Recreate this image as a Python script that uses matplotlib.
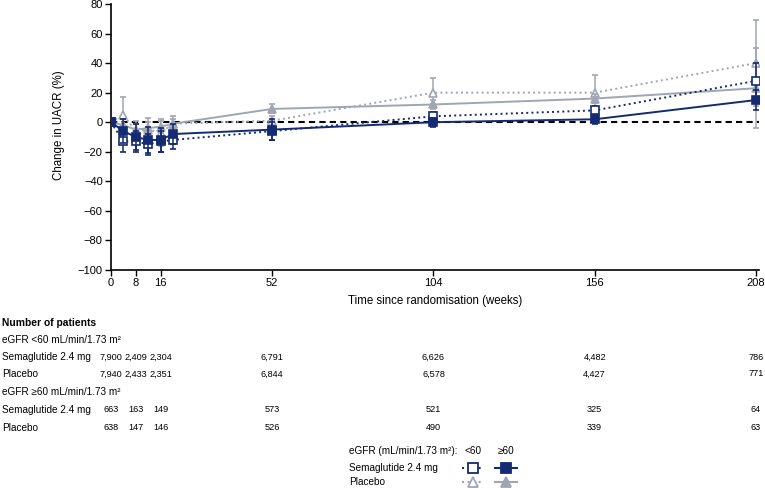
import matplotlib
matplotlib.use("Agg")
import matplotlib.pyplot as plt
from matplotlib.lines import Line2D
import matplotlib.transforms as mtransforms

plt.rcParams['font.family'] = ['Liberation Sans', 'DejaVu Sans']

weeks = [0, 4, 8, 12, 16, 20, 52, 104, 156, 208]
sema_lt60 = [0, -13, -13, -15, -13, -12, -6, 4, 8, 28]
sema_lt60_err = [0, 7, 7, 7, 7, 6, 6, 3, 3, 12]
sema_ge60 = [0, -6, -10, -12, -12, -8, -5, 0, 2, 15]
sema_ge60_err = [0, 8, 9, 9, 8, 7, 7, 3, 3, 7]
pbo_lt60 = [0, 5, -6, -5, -7, -1, 1, 20, 20, 40]
pbo_lt60_err = [0, 12, 7, 8, 9, 5, 3, 10, 12, 29]
pbo_ge60 = [0, -2, -5, -4, -3, -1, 9, 12, 16, 23]
pbo_ge60_err = [0, 4, 4, 4, 4, 3, 3, 3, 3, 27]

table_weeks = [0, 8, 16, 52, 104, 156, 208]
n_sema_lt60 = ["7,900", "2,409", "2,304", "6,791", "6,626", "4,482", "786"]
n_pbo_lt60 = ["7,940", "2,433", "2,351", "6,844", "6,578", "4,427", "771"]
n_sema_ge60 = ["663", "163", "149", "573", "521", "325", "64"]
n_pbo_ge60 = ["638", "147", "146", "526", "490", "339", "63"]

navy = "#142a72"
grey = "#a0a5b3"

W, H = 765, 488
fig = plt.figure(figsize=(W / 100, H / 100), dpi=100)
ax = fig.add_axes([111 / W, 1 - 270 / H, (759 - 111) / W, (270 - 4) / H])

ax.axhline(0, color="black", ls=(0, (3, 2)), lw=1.5, zorder=1)

def series(y, err, color, ls, marker, filled, z):
    ax.errorbar(weeks, y, yerr=err, color=color, ls=ls, lw=1.4,
                marker=marker, ms=5.5, mfc=color if filled else "white",
                mec=color, mew=1.2, ecolor=color, elinewidth=1.1,
                capsize=2.5, capthick=1.1, zorder=z)

series(pbo_lt60, pbo_lt60_err, grey, ":", "^", False, 2)
series(pbo_ge60, pbo_ge60_err, grey, "-", "^", True, 3)
series(sema_lt60, sema_lt60_err, navy, ":", "s", False, 4)
series(sema_ge60, sema_ge60_err, navy, "-", "s", True, 5)

ax.set_xlim(0, 209)
ax.set_ylim(-100, 80)
ax.set_xticks(table_weeks)
ax.set_yticks(range(-100, 81, 20))
ax.tick_params(labelsize=8, length=4, width=1, colors="black", pad=2)
for s in ["top", "right"]:
    ax.spines[s].set_visible(False)
for s in ["left", "bottom"]:
    ax.spines[s].set_linewidth(1.2)
ax.set_xlabel("Time since randomisation (weeks)", fontsize=8.3, labelpad=5)
ax.set_ylabel("Change in UACR (%)", fontsize=8.3)
ax.yaxis.set_label_coords(-0.071, 0.545)

def fy(py):
    return 1 - py / H

fs = 7.2
rows_y = [323, 340, 357, 374, 392, 410, 428]
fig.text(2 / W, fy(rows_y[0]), "Number of patients", fontsize=7.4, fontweight="bold", va="center")
fig.text(2 / W, fy(rows_y[1]), "eGFR <60 mL/min/1.73 m²", fontsize=fs, va="center")
fig.text(2 / W, fy(rows_y[2]), "Semaglutide 2.4 mg", fontsize=fs, va="center")
fig.text(2 / W, fy(rows_y[3]), "Placebo", fontsize=fs, va="center")
fig.text(2 / W, fy(rows_y[4]), "eGFR ≥60 mL/min/1.73 m²", fontsize=fs, va="center")
fig.text(2 / W, fy(rows_y[5]), "Semaglutide 2.4 mg", fontsize=fs, va="center")
fig.text(2 / W, fy(rows_y[6]), "Placebo", fontsize=fs, va="center")

trans = mtransforms.blended_transform_factory(ax.transData, fig.transFigure)
for row, py in [(n_sema_lt60, rows_y[2]), (n_pbo_lt60, rows_y[3]),
                (n_sema_ge60, rows_y[5]), (n_pbo_ge60, rows_y[6])]:
    for wk, txt in zip(table_weeks, row):
        fig.text(wk, fy(py), txt, fontsize=6.6,
                 ha="center", va="center", transform=trans)

# legend
fig.text(349 / W, fy(451), "eGFR (mL/min/1.73 m²):", fontsize=fs, va="center")
fig.text(473 / W, fy(451), "<60", fontsize=fs, va="center", ha="center")
fig.text(506 / W, fy(451), "≥60", fontsize=fs, va="center", ha="center")
fig.text(349 / W, fy(468), "Semaglutide 2.4 mg", fontsize=fs, va="center")
fig.text(349 / W, fy(482), "Placebo", fontsize=fs, va="center")

def leg_sample(cx, py, color, ls, marker, filled):
    x0, x1 = (cx - 11) / W, (cx + 11) / W
    fig.add_artist(Line2D([x0, x1], [fy(py), fy(py)], color=color, ls=ls, lw=1.5,
                          transform=fig.transFigure))
    fig.add_artist(Line2D([cx / W], [fy(py)], color=color, marker=marker, ms=6.5,
                          mfc=color if filled else "white", mec=color, mew=1.3,
                          transform=fig.transFigure))

leg_sample(473, 468, navy, ":", "s", False)
leg_sample(506, 468, navy, "-", "s", True)
leg_sample(473, 482, grey, ":", "^", False)
leg_sample(506, 482, grey, "-", "^", True)

fig.savefig("out.png", dpi=100)
